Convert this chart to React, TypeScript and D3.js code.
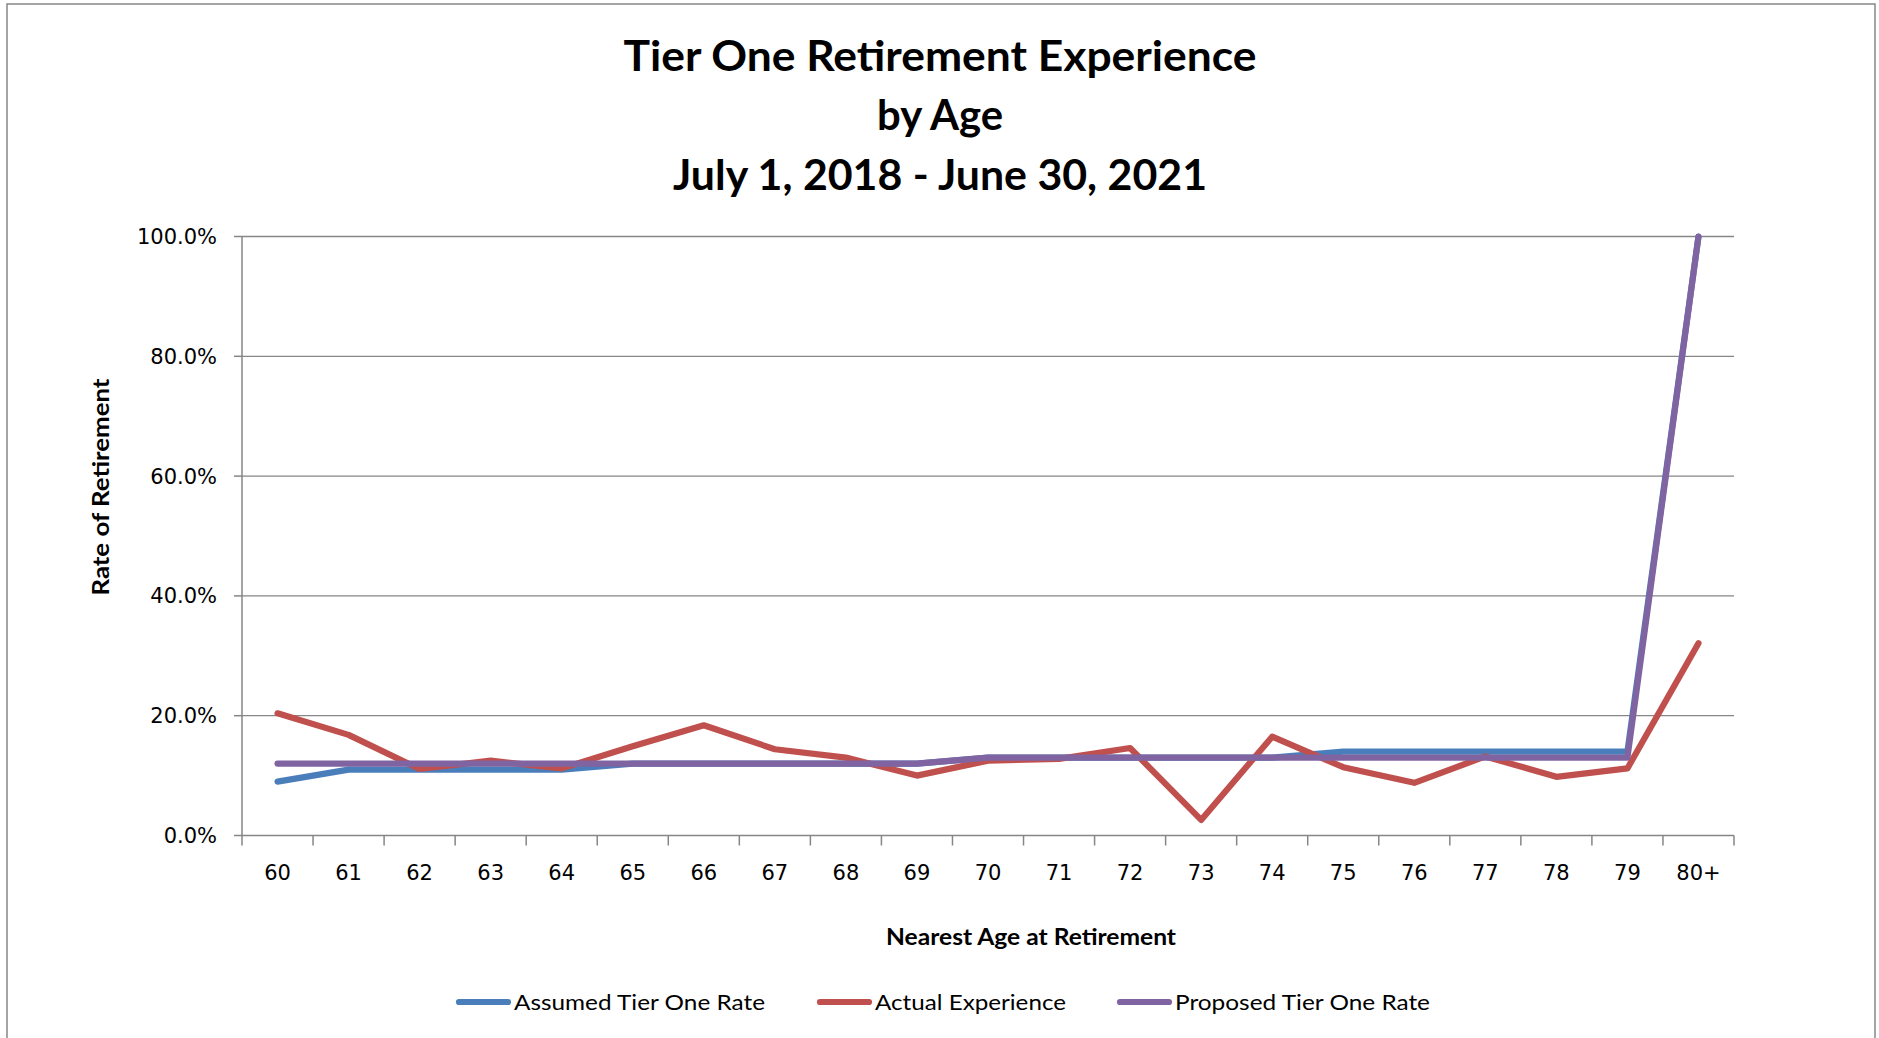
import * as d3 from 'd3'
import { useEffect, useRef } from 'react'

// nearest age at retirement
const ages = ['60', '61', '62', '63', '64', '65', '66', '67', '68', '69', '70', '71', '72', '73', '74', '75', '76', '77', '78', '79', '80+']

// rates
const assumedRate = [0.09, 0.11, 0.11, 0.11, 0.11, 0.12, 0.12, 0.12, 0.12, 0.12, 0.13, 0.13, 0.13, 0.13, 0.13, 0.14, 0.14, 0.14, 0.14, 0.14, 1.0]
const actualExperience = [0.204, 0.168, 0.111, 0.125, 0.112, 0.149, 0.184, 0.144, 0.13, 0.1, 0.125, 0.128, 0.146, 0.026, 0.165, 0.114, 0.088, 0.132, 0.098, 0.112, 0.321]
const proposedRate = [0.12, 0.12, 0.12, 0.12, 0.12, 0.12, 0.12, 0.12, 0.12, 0.12, 0.13, 0.13, 0.13, 0.13, 0.13, 0.13, 0.13, 0.13, 0.13, 0.13, 1.0]

const yTicks = [0, 0.2, 0.4, 0.6, 0.8, 1.0]

const seriesList = [
    { name: 'Assumed Tier One Rate', values: assumedRate, color: '#4A7EBB' },
    { name: 'Actual Experience', values: actualExperience, color: '#C0504D' },
    { name: 'Proposed Tier One Rate', values: proposedRate, color: '#8064A2' },
]

const titleLines = ['Tier One Retirement Experience', 'by Age', 'July 1, 2018 - June 30, 2021']

export default function App() {
    const svgRef = useRef(null)

    useEffect(() => {
        const width = 1879
        const height = 1038
        const plot = { left: 242, right: 1734, top: 236.5, bottom: 835.5 }
        const gray = '#868686'
        const labelFont = '"DejaVu Sans", sans-serif'
        const boldFont = 'Lato, "Open Sans", sans-serif'

        const svg = d3.select(svgRef.current)
        svg.selectAll('*').remove()

        svg.attr('width', width).attr('height', height)

        // outer chart border
        svg.append('rect')
            .attr('x', 7).attr('y', 4)
            .attr('width', 1868).attr('height', 1060)
            .attr('fill', 'white')
            .attr('stroke', gray)
            .attr('stroke-width', 1.5)

        const x = d3.scaleBand()
            .domain(ages)
            .range([plot.left, plot.right])
            .padding(0)
        const cx = (d) => x(d) + x.bandwidth() / 2

        const y = d3.scaleLinear()
            .domain([0, 1])
            .range([plot.bottom, plot.top])

        // gridlines
        svg.append('g')
            .selectAll('line')
            .data(yTicks.filter(t => t > 0))
            .join('line')
            .attr('x1', plot.left).attr('x2', plot.right)
            .attr('y1', d => y(d)).attr('y2', d => y(d))
            .attr('stroke', gray)
            .attr('stroke-width', 1.3)

        // y axis
        const yAxis = svg.append('g')
        yAxis.append('line')
            .attr('x1', plot.left).attr('x2', plot.left)
            .attr('y1', plot.top).attr('y2', plot.bottom)
            .attr('stroke', gray).attr('stroke-width', 1.5)
        yAxis.selectAll('line.tick')
            .data(yTicks)
            .join('line')
            .attr('class', 'tick')
            .attr('x1', plot.left - 8).attr('x2', plot.left)
            .attr('y1', d => y(d)).attr('y2', d => y(d))
            .attr('stroke', gray).attr('stroke-width', 1.5)
        yAxis.selectAll('text')
            .data(yTicks)
            .join('text')
            .attr('x', 217)
            .attr('y', d => y(d))
            .attr('dy', '0.36em')
            .attr('text-anchor', 'end')
            .attr('font-family', labelFont)
            .attr('font-size', 21)
            .attr('fill', '#000')
            .text(d => d3.format('.1%')(d))

        // x axis
        const xAxis = svg.append('g')
        xAxis.append('line')
            .attr('x1', plot.left).attr('x2', plot.right)
            .attr('y1', plot.bottom).attr('y2', plot.bottom)
            .attr('stroke', gray).attr('stroke-width', 1.5)
        const boundaries = ages.map(a => x(a)).concat([plot.right])
        xAxis.selectAll('line.tick')
            .data(boundaries)
            .join('line')
            .attr('class', 'tick')
            .attr('x1', d => d).attr('x2', d => d)
            .attr('y1', plot.bottom).attr('y2', plot.bottom + 10)
            .attr('stroke', gray).attr('stroke-width', 1.5)
        xAxis.selectAll('text')
            .data(ages)
            .join('text')
            .attr('x', d => cx(d))
            .attr('y', 872)
            .attr('dy', '0.36em')
            .attr('text-anchor', 'middle')
            .attr('font-family', labelFont)
            .attr('font-size', 21)
            .attr('fill', '#000')
            .text(d => d)

        // series lines
        const line = d3.line()
            .x((_, i) => cx(ages[i]))
            .y(d => y(d))

        svg.append('g')
            .selectAll('path')
            .data(seriesList)
            .join('path')
            .attr('d', d => line(d.values))
            .attr('fill', 'none')
            .attr('stroke', d => d.color)
            .attr('stroke-width', 6.2)
            .attr('stroke-linejoin', 'round')
            .attr('stroke-linecap', 'round')

        // title
        const titleY = [71, 130, 190]
        const titleW = [633, 126, 534]
        svg.append('g')
            .selectAll('text')
            .data(titleLines)
            .join('text')
            .attr('x', 940)
            .attr('y', (_, i) => titleY[i])
            .attr('text-anchor', 'middle')
            .attr('font-family', boldFont)
            .attr('font-weight', 'bold')
            .attr('font-size', 42)
            .attr('textLength', (_, i) => titleW[i])
            .attr('lengthAdjust', 'spacingAndGlyphs')
            .attr('fill', '#000')
            .text(d => d)

        // axis titles
        svg.append('text')
            .attr('transform', 'translate(109,487) rotate(-90)')
            .attr('text-anchor', 'middle')
            .attr('font-family', boldFont)
            .attr('font-weight', 'bold')
            .attr('font-size', 22)
            .attr('textLength', 217)
            .attr('lengthAdjust', 'spacingAndGlyphs')
            .attr('fill', '#000')
            .text('Rate of Retirement')

        svg.append('text')
            .attr('x', 1031)
            .attr('y', 945)
            .attr('text-anchor', 'middle')
            .attr('font-family', boldFont)
            .attr('font-weight', 'bold')
            .attr('font-size', 22)
            .attr('textLength', 290)
            .attr('lengthAdjust', 'spacingAndGlyphs')
            .attr('fill', '#000')
            .text('Nearest Age at Retirement')

        // legend
        const legendX = [456, 817, 1117]
        const legendW = [251, 191, 255]
        const legend = svg.append('g')
            .selectAll('g')
            .data(seriesList)
            .join('g')
            .attr('transform', (_, i) => `translate(${legendX[i]},1002)`)
        legend.append('line')
            .attr('x1', 3).attr('x2', 52)
            .attr('y1', 0).attr('y2', 0)
            .attr('stroke', d => d.color)
            .attr('stroke-width', 6.2)
            .attr('stroke-linecap', 'round')
        legend.append('text')
            .attr('x', 58)
            .attr('y', 0)
            .attr('dy', '0.35em')
            .attr('font-family', boldFont)
            .attr('font-size', 22)
            .attr('textLength', (_, i) => legendW[i])
            .attr('lengthAdjust', 'spacingAndGlyphs')
            .attr('fill', '#000')
            .text(d => d.name)
    }, [])

    return (
        <div style={{ position: 'absolute', left: 0, top: 0 }}>
            <svg ref={svgRef} style={{ display: 'block' }}></svg>
        </div>
    )
}
